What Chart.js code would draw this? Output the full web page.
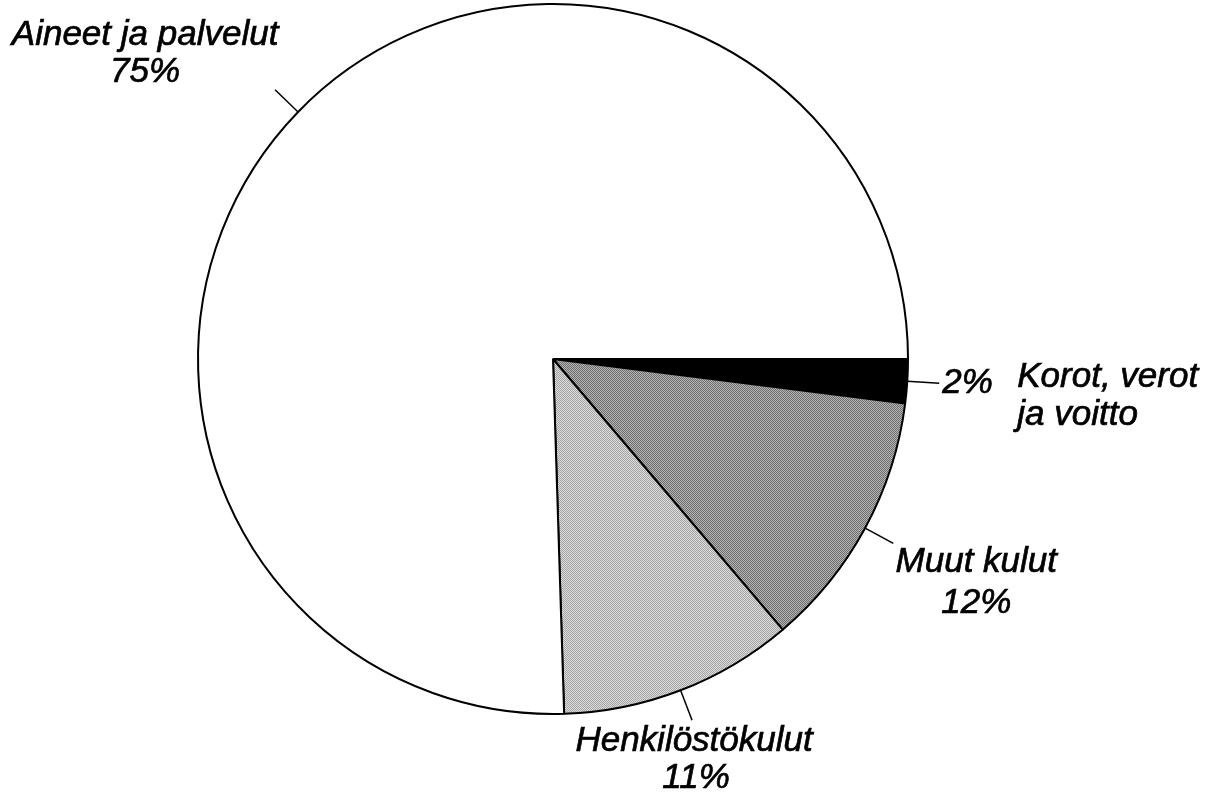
<!DOCTYPE html>
<html>
<head>
    <meta charset="utf-8" />
    <script src="https://cdn.jsdelivr.net/npm/chart.js"></script>
    <style>
        body { margin: 0; background: white; }
        canvas { display: block; }
    </style>
</head>
<body>
    <canvas id="pieChart" width="1210" height="799"></canvas>

    <script>
        // Data, clockwise from 3 o'clock (slice sizes)
        const labels = ['Korot, verot ja voitto', 'Muut kulut', 'Henkilöstökulut', 'Aineet ja palvelut'];
        const shares = [2, 11.8, 10.7, 75.5];
        const shareLabels = ['2%', '12%', '11%', '75%'];

        // stippled fills like the scanned original
        function dots(dark, light) {
            const c = document.createElement('canvas');
            c.width = 2; c.height = 2;
            const g = c.getContext('2d');
            g.fillStyle = light; g.fillRect(0, 0, 2, 2);
            g.fillStyle = dark; g.fillRect(0, 0, 1, 1); g.fillRect(1, 1, 1, 1);
            return g.createPattern(c, 'repeat');
        }

        const fills = ['#000000', dots('#6e6e6e', '#b4b4b4'), dots('#a4a4a4', '#dcdcdc'), '#ffffff'];

        // text placement relative to the end of each leader line
        const labelLayout = [
            { parts: [
                { text: shareLabels[0], dx: 3, dy: 10, align: 'left' },
                { text: 'Korot, verot', dx: 78, dy: 4, align: 'left' },
                { text: 'ja voitto', dx: 78, dy: 42, align: 'left' }
            ] },
            { parts: [
                { text: 'Muut kulut', dx: 83, dy: 29, align: 'center' },
                { text: shareLabels[1], dx: 83, dy: 70, align: 'center' }
            ] },
            { parts: [
                { text: 'Henkilöstökulut', dx: 2, dy: 31, align: 'center' },
                { text: shareLabels[2], dx: 4, dy: 68, align: 'center' }
            ] },
            { parts: [
                { text: 'Aineet ja palvelut', dx: -130, dy: -45, align: 'center' },
                { text: shareLabels[3], dx: -130, dy: -8, align: 'center' }
            ] }
        ];

        const leaderLabels = {
            id: 'leaderLabels',
            afterDraw(chart) {
                const ctx = chart.ctx;
                const arcs = chart.getDatasetMeta(0).data;
                ctx.save();
                ctx.strokeStyle = '#000';
                ctx.fillStyle = '#000';
                ctx.font = 'italic 35px "Liberation Sans", Arial, sans-serif';
                ctx.textBaseline = 'alphabetic';
                arcs.forEach((arc, i) => {
                    const a = (arc.startAngle + arc.endAngle) / 2;
                    const r = arc.outerRadius;
                    const x0 = arc.x + Math.cos(a) * r;
                    const y0 = arc.y + Math.sin(a) * r;
                    const x1 = arc.x + Math.cos(a) * (r + 32);
                    const y1 = arc.y + Math.sin(a) * (r + 32);
                    ctx.lineWidth = 1.5;
                    ctx.beginPath();
                    ctx.moveTo(x0, y0);
                    ctx.lineTo(x1, y1);
                    ctx.stroke();
                    ctx.lineWidth = 0.7;
                    labelLayout[i].parts.forEach(p => {
                        ctx.textAlign = p.align;
                        ctx.fillText(p.text, x1 + p.dx, y1 + p.dy);
                        ctx.strokeText(p.text, x1 + p.dx, y1 + p.dy);
                    });
                });
                ctx.restore();
            }
        };

        new Chart(
            document.getElementById('pieChart'),
            {
                type: 'pie',
                data: {
                    labels: labels,
                    datasets: [{
                        data: shares,
                        backgroundColor: fills,
                        borderColor: '#000',
                        borderWidth: 2
                    }]
                },
                options: {
                    responsive: false,
                    animation: false,
                    rotation: 90,
                    radius: 355,
                    layout: {
                        padding: { left: 0, right: 104, top: 0, bottom: 81 }
                    },
                    plugins: {
                        legend: { display: false },
                        tooltip: { enabled: false }
                    }
                },
                plugins: [leaderLabels]
            }
        );
    </script>
</body>
</html>
